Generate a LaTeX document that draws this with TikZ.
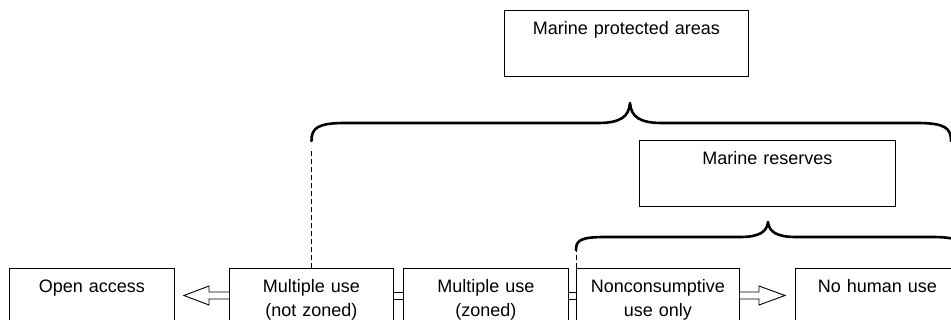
\documentclass[tikz,border=0pt]{standalone}
\usepackage{fontspec}
\setmainfont{Liberation Sans}
\usetikzlibrary{calc}
\begin{document}
\begin{tikzpicture}[x=1pt,y=-1pt,
  % boxes: text hangs from the top edge, box height set by the depth
  stage/.style={draw, line width=0.9pt, anchor=north west, align=center,
    inner sep=0pt, text width=#1, text height=24.5pt, text depth=35.5pt,
    font=\fontsize{18}{23.5}\selectfont},
  group/.style={stage=#1, text depth=41.5pt},
  brace/.style={line width=2.6pt, line cap=round, line join=round},
  link/.style={line width=0.9pt, dash pattern=on 5pt off 3pt},
  hollow/.style={draw, fill=white, line width=0.9pt, line join=miter}]
\path[use as bounding box, clip] (0,0) rectangle (951,320);

% spectrum of use, left to right
\node[stage=165pt] (oa)  at (9,268)   {Open access\\ \mbox{}};
\node[stage=164pt] (mun) at (229,268) {Multiple use\\(not zoned)};
\node[stage=165pt] (mz)  at (403,268) {Multiple use\\(zoned)};
\node[stage=163pt] (nc)  at (576,268) {Nonconsumptive\\use only};
\node[stage=164pt] (nh)  at (795,268) {No human use\\ \mbox{}};

% category labels
\node[group=244pt] (mpa) at (504,10)  {Marine protected areas\\ \mbox{}};
\node[group=256pt] (mr)  at (639,140) {Marine reserves\\ \mbox{}};

% shaft levels of the hollow arrows
\coordinate (up) at (0,292);
\coordinate (dn) at (0,299);

% hollow arrow towards open access
\draw[hollow] (mun.west |- up) -- (209,292) -- (209,286) -- ($(oa.east |- up)+(9,3.5)$)
  -- (209,305) -- (209,299) -- (mun.west |- dn);
% hollow arrow towards no human use
\draw[hollow] (nc.east |- up) -- (759,292) -- (759,286) -- ($(nh.west |- up)+(-10,3.5)$)
  -- (759,305) -- (759,299) -- (nc.east |- dn);

% plain double links between neighbouring stages
\draw[line width=0.9pt] (mun.east |- up) -- (mz.west |- up) (mun.east |- dn) -- (mz.west |- dn);
\draw[line width=0.9pt] (mz.east |- up) -- (nc.west |- up) (mz.east |- dn) -- (nc.west |- dn);

% brace spanning the marine protected areas
\coordinate (bigL) at ($(mun.north)+(0,-127)$);
\draw[brace] (bigL) .. controls ($(bigL)+(0,-13)$) and ($(bigL)+(6,-18)$) .. ($(bigL)+(34,-18)$)
  -- (598,123) .. controls (620,123) and (629,117) .. (630,103)
  .. controls (631,117) and (640,123) .. (662,123)
  -- (917,123) .. controls (945,123) and (951,128) .. (951,141);
\draw[link] (mun.north) -- ($(bigL)+(0,7)$);

% brace spanning the marine reserves
\coordinate (smL) at ($(nc.north west)+(0,-18)$);
\draw[brace] (smL) .. controls ($(smL)+(0,-10)$) and ($(smL)+(5,-13)$) .. ($(smL)+(30,-13)$)
  -- (740,237) .. controls (759,237) and (767,232) .. (768,222)
  .. controls (769,232) and (777,237) .. (796,237)
  -- (931,237) .. controls (956,237) and (961,240) .. (961,250);
\draw[link] (nc.north west) -- (smL);
\end{tikzpicture}
\end{document}
